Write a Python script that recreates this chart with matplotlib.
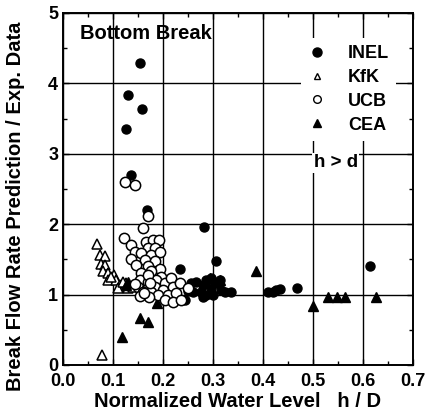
import matplotlib
matplotlib.use('Agg')
import matplotlib.pyplot as plt
from matplotlib.lines import Line2D
from matplotlib.ticker import MultipleLocator

plt.rcParams['font.family'] = ['Liberation Sans', 'DejaVu Sans']
plt.rcParams['font.weight'] = 'bold'

# INEL (filled circles)
inel_x = [0.154, 0.131, 0.159, 0.127, 0.137, 0.169, 0.282, 0.306, 0.234, 0.244,
          0.257, 0.267, 0.261, 0.277, 0.281, 0.287, 0.297, 0.281, 0.297, 0.307,
          0.314, 0.317, 0.324, 0.337, 0.287, 0.250, 0.300, 0.411, 0.421, 0.427,
          0.435, 0.469, 0.614]
inel_y = [4.29, 3.83, 3.64, 3.35, 2.70, 2.20, 1.96, 1.48, 1.37, 0.92,
          1.16, 1.18, 1.04, 1.04, 1.14, 1.21, 1.23, 0.97, 1.09, 1.16,
          1.21, 1.07, 1.04, 1.03, 0.99, 1.05, 1.00, 1.03, 1.03, 1.06,
          1.08, 1.09, 1.40]

# KfK (open triangles)
kfk_x = [0.079, 0.069, 0.074, 0.084, 0.077, 0.085, 0.080, 0.091, 0.091, 0.103,
         0.107, 0.114, 0.127, 0.131, 0.111, 0.141, 0.097, 0.120]
kfk_y = [0.14, 1.72, 1.56, 1.55, 1.44, 1.42, 1.33, 1.31, 1.21, 1.28,
         1.21, 1.14, 1.16, 1.09, 1.09, 1.11, 1.25, 1.18]

# UCB (open circles)
ucb_x = [0.124, 0.144, 0.171, 0.161, 0.123, 0.137, 0.167, 0.181, 0.193, 0.171,
         0.184, 0.144, 0.157, 0.177, 0.194, 0.137, 0.164, 0.184, 0.147, 0.171,
         0.194, 0.157, 0.177, 0.197, 0.154, 0.171, 0.187, 0.204, 0.217, 0.151,
         0.167, 0.184, 0.201, 0.221, 0.234, 0.161, 0.177, 0.191, 0.211, 0.227,
         0.204, 0.221, 0.237, 0.145, 0.250, 0.170, 0.175, 0.172, 0.155, 0.162]
ucb_y = [2.60, 2.56, 2.12, 1.95, 1.80, 1.70, 1.75, 1.77, 1.77, 1.66,
         1.66, 1.61, 1.59, 1.56, 1.61, 1.51, 1.49, 1.47, 1.42, 1.40,
         1.37, 1.30, 1.33, 1.25, 1.21, 1.18, 1.21, 1.16, 1.23, 1.11,
         1.07, 1.11, 1.07, 1.11, 1.16, 1.04, 1.04, 0.99, 0.99, 1.02,
         0.92, 0.90, 0.92, 1.15, 1.10, 1.28, 1.16, 0.97, 0.98, 1.02]

# CEA (filled triangles)
cea_x = [0.119, 0.154, 0.171, 0.189, 0.131, 0.127, 0.386, 0.294, 0.314, 0.317,
         0.501, 0.531, 0.549, 0.565, 0.627]
cea_y = [0.40, 0.67, 0.61, 0.88, 1.18, 1.14, 1.33, 1.23, 1.21, 1.09,
         0.84, 0.96, 0.96, 0.97, 0.96]

fig = plt.figure(figsize=(4.30, 4.19), dpi=100)
ax = fig.add_axes([0.1465, 0.129, 0.8135, 0.84])

ax.plot(kfk_x, kfk_y, '^', ms=6.8, mfc='white', mec='black', mew=1.1, zorder=3)
ax.plot(cea_x, cea_y, '^', ms=6.8, color='black', zorder=3)
ax.plot(inel_x, inel_y, 'o', ms=6.5, color='black', zorder=4)
ax.plot(ucb_x, ucb_y, 'o', ms=7.4, mfc='white', mec='black', mew=1.1, zorder=5)

ax.set_xlim(0, 0.7)
ax.set_ylim(0, 5)
ax.xaxis.set_major_locator(MultipleLocator(0.1))
ax.xaxis.set_minor_locator(MultipleLocator(0.05))
ax.yaxis.set_major_locator(MultipleLocator(1))
ax.yaxis.set_minor_locator(MultipleLocator(0.5))
ax.set_xticklabels(['%.1f' % v for v in ax.get_xticks()])
ax.grid(True, which='major', color='black', linewidth=1.0)
ax.tick_params(which='both', direction='in', top=True, right=True, labelsize=13, width=1)
ax.tick_params(which='major', length=4)
ax.tick_params(which='minor', length=3)
ax.tick_params(axis='x', pad=6)
for lab in ax.get_xticklabels() + ax.get_yticklabels():
    lab.set_fontweight('bold')
for s in ax.spines.values():
    s.set_linewidth(1.4)

ax.set_xlabel('Normalized Water Level   h / D', fontsize=14.5, fontweight='bold', labelpad=1)
ax.set_ylabel('Break Flow Rate Prediction / Exp. Data', fontsize=14.5, fontweight='bold')
# label sits a bit lower than the axis centre in the original
ax.yaxis.set_label_coords(-0.108, 0.45)

ax.text(0.049, 0.943, 'Bottom Break', transform=ax.transAxes, fontsize=14.5,
        fontweight='bold', ha='left', va='center', zorder=6)
ax.text(0.78, 0.574, 'h > d', transform=ax.transAxes, fontsize=13.5,
        fontweight='bold', ha='center', va='center', zorder=6,
        bbox=dict(facecolor='white', edgecolor='none', pad=1))

handles = [
    Line2D([], [], ls='none', marker='o', ms=6.5, color='black'),
    Line2D([], [], ls='none', marker='^', ms=5, mfc='white', mec='black', mew=1),
    Line2D([], [], ls='none', marker='o', ms=5.5, mfc='white', mec='black', mew=1),
    Line2D([], [], ls='none', marker='^', ms=6, color='black'),
]
leg = ax.legend(handles, ['INEL', 'KfK', 'UCB', 'CEA'], loc='upper left',
                bbox_to_anchor=(0.655, 0.955), frameon=True, fancybox=False,
                edgecolor='none', framealpha=1, prop={'weight': 'bold', 'size': 13},
                handletextpad=1.2, labelspacing=0.38, handlelength=1.0, borderpad=0.4)
leg.set_zorder(6)

fig.savefig('out.png', dpi=100)
